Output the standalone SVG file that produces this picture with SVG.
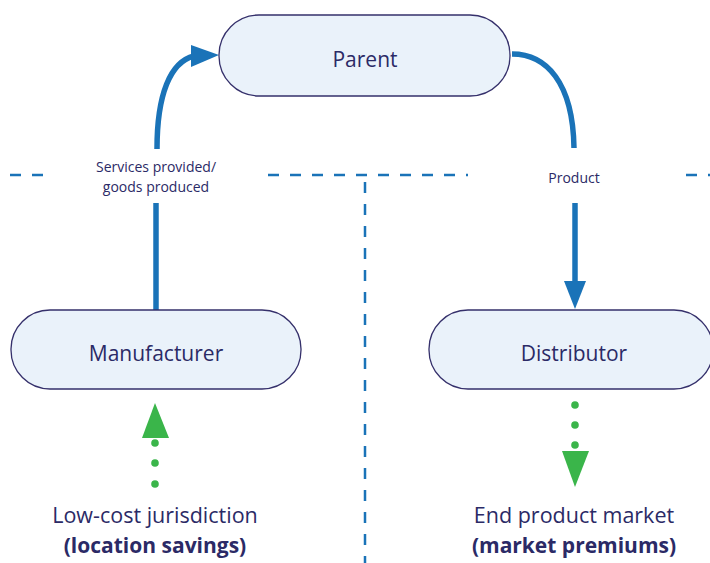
<svg xmlns="http://www.w3.org/2000/svg" width="710" height="563" viewBox="0 0 710 563">
  <style>
    .node rect { fill: #eaf2fa; stroke: #35306b; stroke-width: 1.3; }
    .label { font-family: "Open Sans", "Noto Sans", sans-serif; fill: #2b2a66; text-anchor: middle; }
    .node text { font-size: 21px; }
    .edge-label { font-size: 14px; }
    .region { font-size: 21.5px; }
    .bold { font-size: 21px; font-weight: bold; }
    .flow { fill: none; stroke: #1a73b8; stroke-width: 5.5; }
    .head { fill: #1a73b8; }
    .divider { fill: none; stroke: #1a73b8; stroke-width: 2.5; stroke-dasharray: 11 11; }
    .green { fill: #3ab54a; }
  </style>

  <rect width="710" height="563" fill="#ffffff"/>

  <!-- jurisdiction dividers -->
  <g id="dividers">
    <line class="divider" x1="10" y1="175" x2="54" y2="175"/>
    <line class="divider" x1="268" y1="175" x2="468" y2="175"/>
    <line class="divider" x1="686" y1="175" x2="720" y2="175"/>
    <line class="divider" x1="365" y1="182" x2="365" y2="570"/>
  </g>

  <!-- connectors -->
  <g id="connectors">
    <path class="flow" d="M156,310 V203"/>
    <path class="flow" d="M157,149 C157,95 170,62 194,56"/>
    <polygon class="head" points="219,55 191,45 191,67"/>
    <text class="label edge-label" x="156" y="172">Services provided/</text>
    <text class="label edge-label" x="156" y="192">goods produced</text>

    <path class="flow" d="M512,54 C546,54 573,82 574,148"/>
    <path class="flow" d="M575,203 V283"/>
    <polygon class="head" points="564,281 586,281 575,309"/>
    <text class="label edge-label" x="574" y="183">Product</text>

    <!-- location savings flow -->
    <polygon class="green" points="155,403 142,438 169,438"/>
    <circle class="green" cx="155" cy="443" r="3.8"/>
    <circle class="green" cx="155" cy="463" r="3.8"/>
    <circle class="green" cx="155" cy="484" r="3.8"/>

    <!-- market premiums flow -->
    <circle class="green" cx="575" cy="405" r="3.8"/>
    <circle class="green" cx="575" cy="425" r="3.8"/>
    <circle class="green" cx="575" cy="445" r="3.8"/>
    <polygon class="green" points="562,451 589,451 575,487"/>
  </g>

  <g id="parent" class="node">
    <rect x="219" y="15" width="291" height="81" rx="40" ry="40"/>
    <text class="label" x="365" y="67">Parent</text>
  </g>

  <g id="manufacturer" class="node">
    <rect x="11" y="310" width="290" height="79" rx="39" ry="39"/>
    <text class="label" x="156" y="361">Manufacturer</text>
  </g>

  <g id="distributor" class="node">
    <rect x="429" y="310" width="284" height="79" rx="39" ry="39"/>
    <text class="label" x="574" y="361">Distributor</text>
  </g>

  <g id="low-cost">
    <text class="label region" x="155" y="523">Low-cost jurisdiction</text>
    <text class="label region bold" x="155" y="553">(location savings)</text>
  </g>

  <g id="end-market">
    <text class="label region" x="574" y="523">End product market</text>
    <text class="label region bold" x="574" y="553">(market premiums)</text>
  </g>
</svg>
